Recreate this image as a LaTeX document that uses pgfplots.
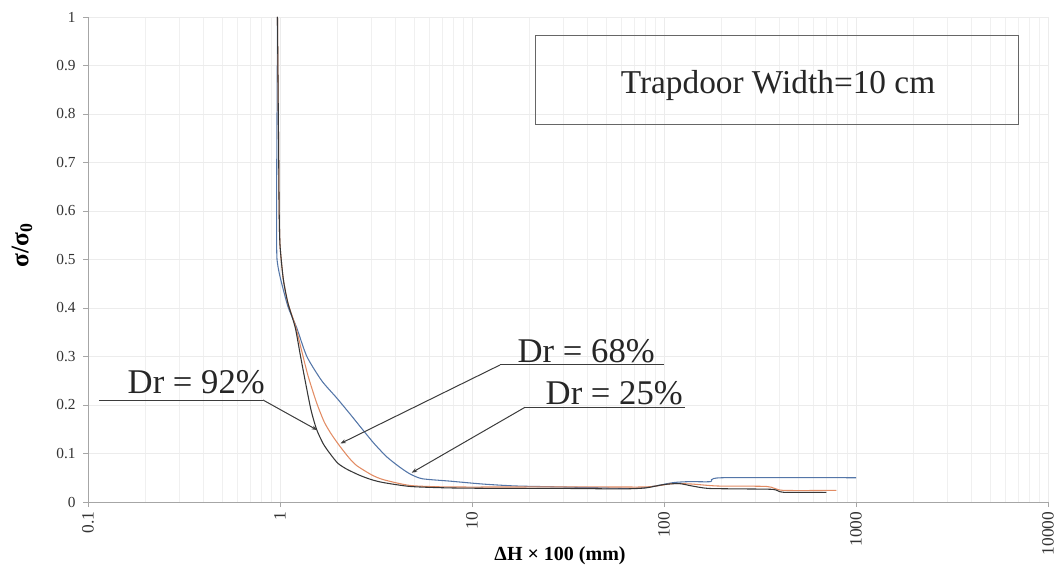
\documentclass[border=0pt]{standalone}
\usepackage{fontspec}
\setmainfont{Liberation Serif}
\usepackage{pgfplots}
\pgfplotsset{compat=1.18}
\usetikzlibrary{arrows.meta}
\definecolor{cblue}{RGB}{84,118,168}
\definecolor{corange}{RGB}{226,140,100}
\definecolor{cblack}{RGB}{55,55,55}
\definecolor{annot}{RGB}{60,60,60}
\begin{document}
\begin{tikzpicture}
\path[use as bounding box] (-66pt,-48.75pt) rectangle (726pt,376.5pt);
\begin{axis}[
  scale only axis,
  width=720pt, height=363.75pt,
  xmode=log,
  xmin=0.1, xmax=10000, ymin=0, ymax=1,
  axis x line*=bottom, axis y line*=left,
  axis line style={gray!70, line width=0.6pt},
  xtick={0.1,1,10,100,1000,10000},
  xticklabels={0.1,1,10,100,1000,10000},
  ytick={0,0.1,0.2,0.3,0.4,0.5,0.6,0.7,0.8,0.9,1},
  yticklabels={0,0.1,0.2,0.3,0.4,0.5,0.6,0.7,0.8,0.9,1},
  tick align=outside,
  major tick length=3.75pt, minor tick length=0pt,
  tick style={gray!70, line width=0.6pt},
  xmajorgrids, xminorgrids, ymajorgrids,
  grid style={gray!15, line width=0.5pt},
  minor grid style={gray!12, line width=0.5pt},
  /pgf/number format/assume math mode=true,
  xticklabel style={rotate=90, anchor=east, font=\fontsize{13}{13}\selectfont, text=black!80},
  yticklabel style={font=\fontsize{11.5}{11.5}\selectfont, text=black!80, xshift=-2pt},
  xlabel={\textbf{ΔH × 100 (mm)}},
  ylabel={\textbf{σ/σ\textsubscript{0}}},
  x label style={at={(axis description cs:0.4917,-0.111)}, anchor=center, font=\fontsize{15}{15}\selectfont},
  y label style={at={(axis description cs:-0.0688,0.53)}, anchor=center, font=\fontsize{19}{19}\selectfont},
  clip=false,
]
% Dr = 25%
\addplot[color=cblue, line width=0.8pt, smooth, tension=0.4] coordinates {
(0.97,1.0) (0.968,0.9) (0.965,0.8) (0.962,0.7) (0.96,0.6) (0.96,0.55) (0.965,0.5)
(1.0,0.465) (1.1,0.403) (1.22,0.36) (1.38,0.30) (1.65,0.25) (1.97,0.215)
(2.31,0.182) (2.71,0.148) (3.1,0.12) (3.6,0.093) (4.2,0.072) (4.75,0.058)
(5.5,0.048) (7.7,0.043) (11.4,0.037) (17,0.033) (30,0.031) (69,0.028)
(87,0.032) (112,0.04) (136,0.042) (175,0.042) (200,0.05) (1000,0.05)
};
% Dr = 68%
\addplot[color=corange, line width=0.8pt, smooth, tension=0.4] coordinates {
(0.97,1.0) (0.975,0.9) (0.98,0.8) (0.985,0.7) (0.99,0.6) (1.0,0.53)
(1.04,0.46) (1.1,0.41) (1.2,0.365) (1.3,0.31) (1.4,0.26) (1.55,0.205)
(1.7,0.165) (1.85,0.14) (2.05,0.115) (2.3,0.09) (2.51,0.075) (3.0,0.056)
(3.46,0.046) (4.78,0.034) (7.7,0.031) (20,0.031) (50,0.031) (80,0.031)
(95,0.034) (112,0.038) (140,0.037) (190,0.033) (343,0.032) (417,0.024) (790,0.024)
};
% Dr = 92%
\addplot[color=cblack, line width=0.8pt, smooth, tension=0.4] coordinates {
(0.97,1.0) (0.975,0.9) (0.98,0.8) (0.985,0.7) (0.99,0.6) (1.0,0.53)
(1.04,0.46) (1.1,0.41) (1.2,0.36) (1.28,0.30) (1.36,0.245) (1.45,0.19)
(1.55,0.15) (1.68,0.12) (1.82,0.10) (2.0,0.08) (2.22,0.068) (2.6,0.055)
(3.0,0.046) (3.46,0.04) (4.78,0.032) (7.7,0.029) (15,0.028) (30,0.028)
(60,0.027) (80,0.029) (100,0.036) (120,0.038) (140,0.033) (170,0.028)
(250,0.027) (370,0.026) (420,0.02) (700,0.02)
};
% annotations
\draw[annot, line width=0.75pt] (rel axis cs:0.01146,0.2103) -- (rel axis cs:0.18229,0.2103);
\draw[annot, line width=0.75pt, -{Stealth[length=4pt,width=3pt]}] (rel axis cs:0.18229,0.2103) -- (rel axis cs:0.23854,0.1485);
\node[anchor=base east, inner sep=0pt, font=\fontsize{26}{26}\selectfont, text=black!85] at (rel axis cs:0.1844,0.2227) {Dr = 92\%};

\draw[annot, line width=0.75pt] (rel axis cs:0.42917,0.2825) -- (rel axis cs:0.6,0.2825);
\draw[annot, line width=0.75pt, -{Stealth[length=4pt,width=3pt]}] (rel axis cs:0.42917,0.2825) -- (rel axis cs:0.26302,0.1206);
\node[anchor=base east, inner sep=0pt, font=\fontsize{26}{26}\selectfont, text=black!85] at (rel axis cs:0.5906,0.2872) {Dr = 68\%};

\draw[annot, line width=0.75pt] (rel axis cs:0.45521,0.19526) -- (rel axis cs:0.62188,0.19526);
\draw[annot, line width=0.75pt, -{Stealth[length=4pt,width=3pt]}] (rel axis cs:0.45521,0.19526) -- (rel axis cs:0.33719,0.06041);
\node[anchor=base east, inner sep=0pt, font=\fontsize{26}{26}\selectfont, text=black!85] at (rel axis cs:0.6198,0.20206) {Dr = 25\%};

\draw[gray!80!black, line width=0.75pt] (rel axis cs:0.46563,0.96144) rectangle (rel axis cs:0.96875,0.77732);
\node[anchor=base, inner sep=0pt, font=\fontsize{25}{25}\selectfont, text=black!85] at (rel axis cs:0.71875,0.8427) {Trapdoor Width=10 cm};
\end{axis}
\end{tikzpicture}
\end{document}
